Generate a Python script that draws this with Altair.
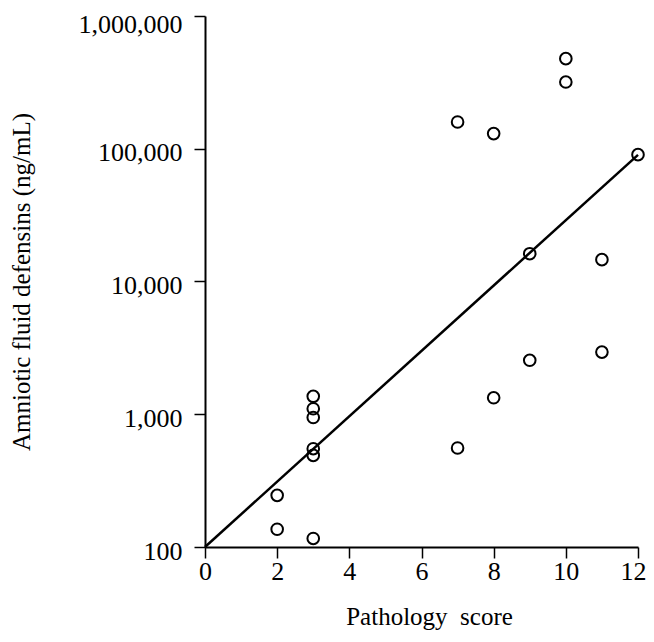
import altair as alt
import pandas as pd

# Data
score = [2, 2, 3, 3, 3, 3, 3, 3, 7, 7, 8, 8, 9, 9, 10, 10, 11, 11, 12]
defensins = [245, 136, 116, 1365, 1100, 945, 550, 490, 557, 159000, 130000,
             1330, 16200, 2550, 477000, 318000, 14600, 2940, 90300]

fit_x = [0, 12]
fit_y = [100, 90000]

y_ticks = [100, 1000, 10000, 100000, 1000000]
x_ticks = [0, 2, 4, 6, 8, 10, 12]

pts = pd.DataFrame({"score": score, "def": defensins})
fit = pd.DataFrame({"score": fit_x, "def": fit_y})

FONT = "Liberation Serif"

x_enc = alt.X(
    "score:Q",
    scale=alt.Scale(domain=[0, 12], nice=False),
    axis=alt.Axis(
        values=x_ticks, title="Pathology\u00a0 score", grid=False,
        labelFont=FONT, labelFontSize=26, labelColor="black", labelPadding=0,
        labelFlush=False,
        labelOffset={"condition": {"test": "datum.value == 12", "value": -5}, "value": 0},
        tickSize=11, tickWidth=1.5, tickColor="black",
        domainColor="black", domainWidth=2,
        titleFont=FONT, titleFontSize=25, titleFontWeight="normal",
        titleColor="black", titlePadding=20, titleX=224,
    ),
)
y_enc = alt.Y(
    "def:Q",
    scale=alt.Scale(type="log", domain=[100, 1000000], nice=False),
    axis=alt.Axis(
        values=y_ticks, format=",", title="Amniotic fluid defensins (ng/mL)",
        grid=False,
        labelFont=FONT, labelFontSize=26, labelColor="black", labelPadding=12,
        labelFlush=False,
        labelOffset={"condition": {"test": "datum.value == 1000000", "value": 8}, "value": 4},
        tickSize=11, tickWidth=1.5, tickColor="black",
        domainColor="black", domainWidth=2,
        titleFont=FONT, titleFontSize=25, titleFontWeight="normal",
        titleColor="black", titlePadding=44,
    ),
)

line = alt.Chart(fit).mark_line(color="black", strokeWidth=2.5).encode(x=x_enc, y=y_enc)
points = alt.Chart(pts).mark_point(
    shape="circle", filled=False, size=135, strokeWidth=2, color="black", opacity=1
).encode(x="score:Q", y="def:Q")

chart = alt.layer(line, points).properties(
    width=433, height=531,
    autosize=alt.AutoSizeParams(type="none"),
    padding={"left": 197, "top": 8, "right": 8, "bottom": 84},
).configure_view(stroke=None)

chart.save("out.html", embed_options={"renderer": "svg", "actions": False})
